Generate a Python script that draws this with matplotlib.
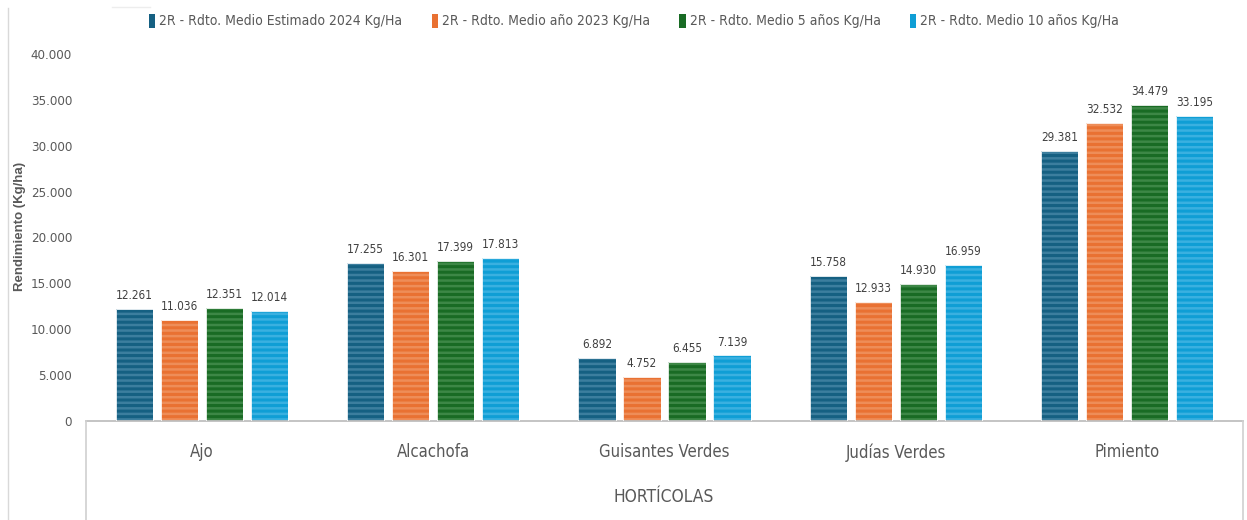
import matplotlib
matplotlib.use("Agg")
import matplotlib.pyplot as plt
import numpy as np
from matplotlib.patches import Rectangle
from matplotlib.lines import Line2D

categories = ["Ajo", "Alcachofa", "Guisantes Verdes", "Judías Verdes", "Pimiento"]
series_names = [
    "2R - Rdto. Medio Estimado 2024 Kg/Ha",
    "2R - Rdto. Medio año 2023 Kg/Ha",
    "2R - Rdto. Medio 5 años Kg/Ha",
    "2R - Rdto. Medio 10 años Kg/Ha",
]
est_2024 = [12261, 17255, 6892, 15758, 29381]
year_2023 = [11036, 16301, 4752, 12933, 32532]
avg_5 = [12351, 17399, 6455, 14930, 34479]
avg_10 = [12014, 17813, 7139, 16959, 33195]
series = [est_2024, year_2023, avg_5, avg_10]
yticks = [0, 5000, 10000, 15000, 20000, 25000, 30000, 35000, 40000]
ytick_labels = ["0", "5.000", "10.000", "15.000", "20.000", "25.000", "30.000", "35.000", "40.000"]
x_title = "HORTÍCOLAS"
y_title = "Rendimiento (Kg/ha)"

base_colors = ["#156082", "#E97132", "#196B24", "#0F9ED5"]
stripe_colors = ["#3C7E9E", "#EE8D58", "#3D8746", "#3AB0E0"]

plt.rcParams["font.family"] = ["DejaVu Sans"]
plt.rcParams["font.stretch"] = "condensed"
plt.rcParams["hatch.linewidth"] = 1.8

W, H = 1247, 520
fig = plt.figure(figsize=(W / 100, H / 100), dpi=100)
ax_left, ax_right = 86, 1243
y0_px, ytop_px = 421, 54
ax = fig.add_axes([ax_left / W, (H - y0_px) / H, (ax_right - ax_left) / W, (y0_px - ytop_px) / H])

x = np.arange(len(categories))
step = 0.1945
width = 0.16
offsets = (np.arange(4) - 1.5) * step
txt_color = "#404040"
for i, vals in enumerate(series):
    pos = x + offsets[i]
    ax.bar(pos, vals, width=width, color=base_colors[i], edgecolor=stripe_colors[i],
           hatch="---", linewidth=0, zorder=2)
    ax.bar(pos, vals, width=width, fill=False, edgecolor="#FFFFFF", linewidth=0.6, zorder=3)
    for p, v in zip(pos, vals):
        ax.annotate(f"{v:,}".replace(",", "."), (p, v), xytext=(0, 5), textcoords="offset points",
                    ha="center", va="bottom", fontsize=8.5, color=txt_color)

ax.set_xlim(-0.5, len(categories) - 0.5)
ax.set_ylim(0, 40000)
ax.set_yticks(yticks)
ax.set_yticklabels(ytick_labels, fontsize=9.5, color="#595959")
ax.tick_params(axis="y", length=0, pad=10)
ax.set_xticks(x)
ax.set_xticklabels(categories, fontsize=12, color="#595959")
ax.tick_params(axis="x", length=0, pad=16)
for s in ["top", "right", "left"]:
    ax.spines[s].set_visible(False)
ax.spines["bottom"].set_color("#BFBFBF")
ax.spines["bottom"].set_linewidth(1.3)

for xp in [ax_left, ax_right]:
    fig.add_artist(Line2D([xp / W, xp / W], [0, (H - y0_px) / H], color="#D0D0D0", lw=1.2))
fig.add_artist(Line2D([8 / W, 8 / W], [0, 1 - 8 / H], color="#D9D9D9", lw=1.0))
fig.add_artist(Line2D([112 / W, 150 / W], [1 - 7 / H, 1 - 7 / H], color="#EDEDED", lw=1.0))

fig.text(664 / W, 1 - 497 / H, x_title, ha="center", va="center", fontsize=12.5, color="#595959")
fig.text(20 / W, 1 - 226 / H, y_title, rotation=90, ha="center", va="center", fontsize=9.5,
         fontweight="bold", color="#595959", family=["Liberation Sans", "DejaVu Sans"], stretch="normal")

handles = [Rectangle((0, 0), 1, 1, facecolor=c, edgecolor="none") for c in base_colors]
leg = fig.legend(handles, series_names, loc="center", bbox_to_anchor=(634 / W, 1 - 21 / H), ncol=4,
                 frameon=False, fontsize=10, handlelength=0.45, handleheight=1.2, handletextpad=0.3,
                 columnspacing=2.1, labelcolor="#595959")

fig.savefig("out.png", dpi=100)
